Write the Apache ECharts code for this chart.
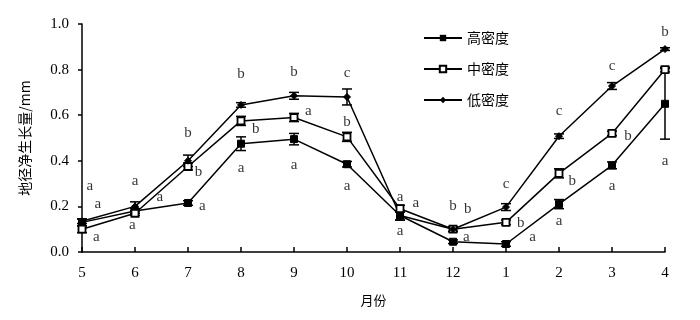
<!DOCTYPE html>
<html>
<head>
<meta charset="utf-8">
<script src="https://cdn.jsdelivr.net/npm/echarts@6/dist/echarts.min.js"></script>
<style>
  html, body { margin: 0; padding: 0; background: #fff; }
  #itemChar { width: 700px; height: 320px; }
</style>
</head>
<body>
<div id="itemChar"></div>
<script>
  // 月份 (5月 ~ 次年4月)
  var months = ['5', '6', '7', '8', '9', '10', '11', '12', '1', '2', '3', '4']

  var highVals = [0.13, 0.18, 0.215, 0.475, 0.495, 0.385, 0.16, 0.045, 0.035, 0.21, 0.38, 0.65]
  var highErr  = [0.015, 0.01, 0.01, 0.03, 0.025, 0.012, 0.02, 0.008, 0.01, 0.02, 0.015, 0.155]
  var midVals  = [0.10, 0.17, 0.375, 0.575, 0.59, 0.505, 0.19, 0.10, 0.13, 0.345, 0.52, 0.80]
  var midErr   = [0.015, 0.01, 0.015, 0.02, 0.018, 0.02, 0.015, 0.01, 0.01, 0.02, 0.01, 0.01]
  var lowVals  = [0.135, 0.20, 0.40, 0.645, 0.685, 0.68, 0.16, 0.10, 0.197, 0.508, 0.728, 0.89]
  var lowErr   = [0.01, 0.02, 0.025, 0.01, 0.015, 0.035, 0.02, 0.01, 0.015, 0.01, 0.015, 0.006]

  // 显著性字母 (x 为月份序号, y 为数值位置)
  var letterText = ['a','a','a', 'a','a', 'b','b','a','a', 'b','b','a', 'b','a','a', 'c','b','a',
                    'a','a','a', 'b','b','a', 'c','b','a', 'c','b','a', 'c','b','a', 'b','b','a']
  var letterX = [0.15,0.3,0.27, 1,0.95, 2,2.2,1.47,2.27, 3,3.28,3, 4,4.27,4, 5,5,5,
                 6,6.3,6, 7,7.28,7.25, 8,8.28,8.5, 9,9.25,9, 10,10.3,10, 11,11.28,11]
  var letterY = [0.29,0.21,0.066, 0.31,0.12, 0.52,0.35,0.24,0.20, 0.78,0.54,0.37, 0.79,0.62,0.38, 0.785,0.57,0.29,
                 0.24,0.215,0.09, 0.20,0.19,0.066, 0.30,0.127,0.066, 0.62,0.31,0.136, 0.815,0.51,0.29, 0.965,0.79,0.40]

  function toPoints(vals) {
    return vals.map(function (v, i) { return [i, v] })
  }
  function toErr(vals, errs) {
    return vals.map(function (v, i) { return [i, v - errs[i], v + errs[i]] })
  }

  function errorBar(params, api) {
    var x = api.value(0)
    var lo = api.coord([x, api.value(1)])
    var hi = api.coord([x, api.value(2)])
    var w = 5
    var st = { stroke: '#000', lineWidth: 1.5 }
    return {
      type: 'group',
      children: [
        { type: 'line', shape: { x1: lo[0], y1: lo[1], x2: hi[0], y2: hi[1] }, style: st },
        { type: 'line', shape: { x1: lo[0] - w, y1: lo[1], x2: lo[0] + w, y2: lo[1] }, style: st },
        { type: 'line', shape: { x1: hi[0] - w, y1: hi[1], x2: hi[0] + w, y2: hi[1] }, style: st }
      ]
    }
  }

  var lineStyle = { color: '#000', width: 1.5 }
  var serif = '"Liberation Serif", "DejaVu Serif", serif'

  var option = {
    animation: false,
    legend: {
      orient: 'vertical',
      left: 418,
      top: 26,
      itemGap: 17,
      itemWidth: 38,
      itemHeight: 8,
      textStyle: { fontFamily: '"Noto Sans CJK SC"', fontSize: 14, color: '#000' },
      data: ['高密度', '中密度', '低密度']
    },
    grid: { left: 82, right: 35, top: 24, bottom: 68 },
    xAxis: {
      type: 'value',
      min: 0,
      max: 11,
      interval: 1,
      name: '月份',
      nameLocation: 'middle',
      nameGap: 42,
      nameTextStyle: { fontFamily: '"Noto Sans CJK SC"', fontSize: 13, color: '#000' },
      axisLine: { lineStyle: { color: '#000', width: 1.5 } },
      axisTick: { inside: true, length: 5, lineStyle: { color: '#000', width: 1.5 } },
      axisLabel: {
        margin: 14,
        fontFamily: serif,
        fontSize: 15,
        color: '#000',
        formatter: function (v) { return months[v] }
      },
      splitLine: { show: false }
    },
    yAxis: {
      type: 'value',
      min: 0,
      max: 1.0,
      interval: 0.2,
      name: '地径净生长量/mm',
      nameLocation: 'middle',
      nameGap: 50,
      nameTextStyle: { fontFamily: '"Noto Sans CJK SC"', fontSize: 14, color: '#000' },
      axisLine: { show: true, lineStyle: { color: '#000', width: 1.5 } },
      axisTick: { show: true, length: 4, lineStyle: { color: '#000', width: 1.5 } },
      axisLabel: {
        margin: 13,
        fontFamily: serif,
        fontSize: 15,
        color: '#000',
        formatter: function (v) { return v.toFixed(1) }
      },
      splitLine: { show: false }
    },
    series: [
      {
        name: '高密度', type: 'line', data: toPoints(highVals),
        symbol: 'rect', symbolSize: 7, z: 3,
        lineStyle: lineStyle, itemStyle: { color: '#000', borderColor: '#000' }
      },
      {
        name: '中密度', type: 'line', data: toPoints(midVals),
        symbol: 'rect', symbolSize: 7, z: 3,
        lineStyle: lineStyle, itemStyle: { color: '#fff', borderColor: '#000', borderWidth: 1.8 }
      },
      {
        name: '低密度', type: 'line', data: toPoints(lowVals),
        symbol: 'diamond', symbolSize: 7, z: 3,
        lineStyle: lineStyle, itemStyle: { color: '#000', borderColor: '#000' }
      },
      { type: 'custom', renderItem: errorBar, data: toErr(highVals, highErr), z: 2, silent: true },
      { type: 'custom', renderItem: errorBar, data: toErr(midVals, midErr), z: 2, silent: true },
      { type: 'custom', renderItem: errorBar, data: toErr(lowVals, lowErr), z: 2, silent: true },
      {
        type: 'scatter',
        symbolSize: 0,
        silent: true,
        data: letterText.map(function (t, i) { return { value: [letterX[i], letterY[i]], name: t } }),
        label: {
          show: true,
          position: 'inside',
          formatter: '{b}',
          fontFamily: serif,
          fontSize: 15,
          color: '#000'
        }
      }
    ]
  }

  var mychar = echarts.init(document.getElementById('itemChar'))
  mychar.setOption(option)
</script>
</body>
</html>
